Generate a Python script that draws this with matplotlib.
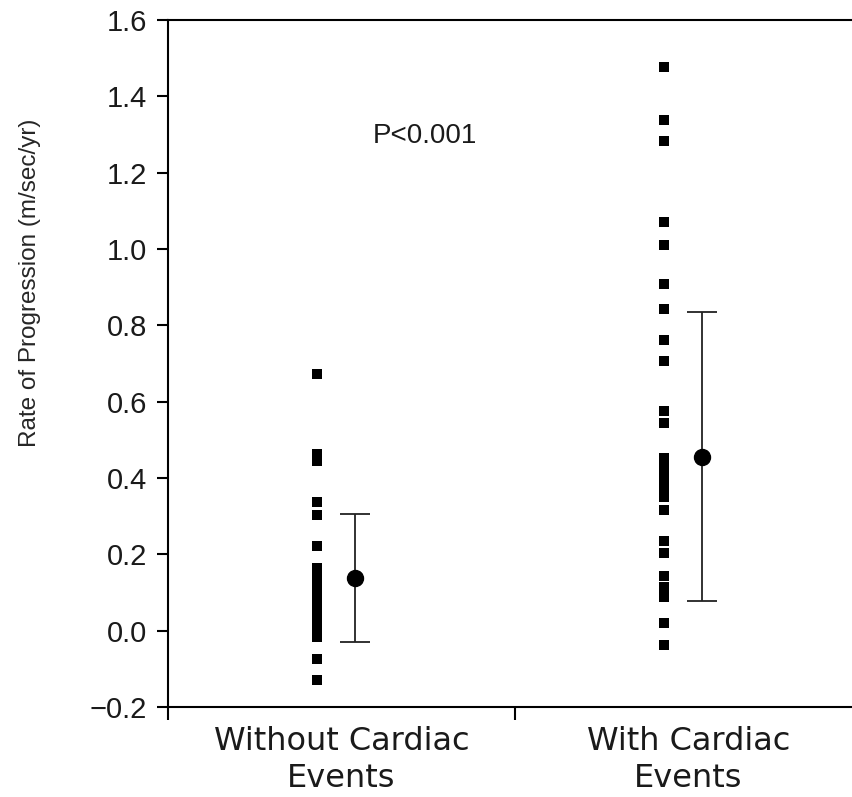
import matplotlib
matplotlib.use('Agg')
import matplotlib.pyplot as plt

plt.rcParams['font.family'] = ['Liberation Sans', 'DejaVu Sans']

# data
groups = ['Without Cardiac\nEvents', 'With Cardiac\nEvents']
without_events = [0.672, 0.463, 0.445, 0.338, 0.302, 0.222, 0.164, 0.146,
                  0.120, 0.098, 0.075, 0.052, 0.030, 0.007, -0.016,
                  -0.073, -0.129]
with_events = [1.477, 1.339, 1.284, 1.070, 1.011, 0.909, 0.843, 0.762, 0.707,
               0.576, 0.544, 0.453, 0.427, 0.401, 0.375, 0.349, 0.316,
               0.236, 0.204, 0.144, 0.115, 0.087, 0.019, -0.037]
means = [0.137, 0.456]
sds = [0.168, 0.378]
yticks = [-0.2, 0.0, 0.2, 0.4, 0.6, 0.8, 1.0, 1.2, 1.4, 1.6]
ytick_labels = ['\u22120.2', '0.0', '0.2', '0.4', '0.6', '0.8', '1.0', '1.2', '1.4', '1.6']

W, H = 852, 797
fig = plt.figure(figsize=(W / 100, H / 100), dpi=100)
# axes runs past right edge of the figure like the original
ax = fig.add_axes([168 / W, (H - 707) / H, (862 - 168) / W, (707 - 20) / H])

txt = '#1a1a1a'

for i, vals in enumerate([without_events, with_events]):
    ax.plot([i + 0.43] * len(vals), vals, linestyle='none', marker='s',
            markersize=6.8, color='black', markeredgewidth=0)
    ax.errorbar(i + 0.54, means[i], yerr=sds[i], fmt='o', color='black',
                markersize=11.5, ecolor='#222222', elinewidth=1.3,
                capsize=10.5, capthick=1.3)

ax.set_xlim(0, 2)
ax.set_ylim(-0.2, 1.6)

ax.set_yticks(yticks)
ax.set_yticklabels(ytick_labels)
ax.set_xticks([0, 1, 2])
ax.set_xticklabels(['', '', ''])
ax.set_xticks([0.5, 1.5], minor=True)
ax.set_xticklabels(groups, minor=True, fontsize=23, color=txt,
                   linespacing=1.22, family=['DejaVu Sans'])
ax.tick_params(axis='x', which='minor', length=0, pad=14)
ax.tick_params(axis='x', which='major', length=9, width=1.5, direction='out')
ax.tick_params(axis='y', length=8, width=1.5, direction='out', pad=7,
               labelsize=21, labelcolor=txt)

for s in ['left', 'top', 'bottom']:
    ax.spines[s].set_linewidth(1.5)
ax.spines['right'].set_visible(False)

ax.text(0.74, 1.295, 'P<0.001', fontsize=20, color=txt, ha='center', va='center')

fig.text(30 / W, 1 - 283 / H, 'Rate of Progression (m/sec/yr)', rotation=90,
         ha='center', va='center', fontsize=17.5, color='#262626')

fig.savefig('out.png', dpi=100)
